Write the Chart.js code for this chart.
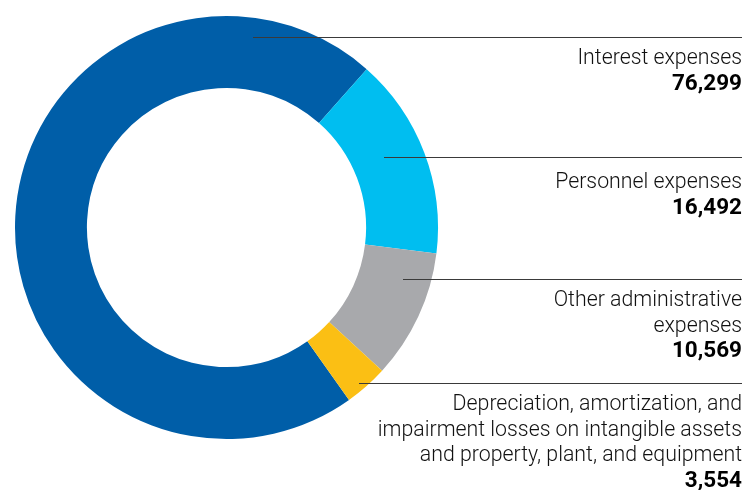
<!DOCTYPE html>
<html>
<head>
<meta charset="utf-8">
<script src="https://cdn.jsdelivr.net/npm/chart.js@4"></script>
<style>
  html, body { margin: 0; padding: 0; background: #fff; }
  #wrap { position: relative; width: 747px; height: 490px; }
</style>
</head>
<body>
<div id="wrap"><canvas id="myChart"></canvas></div>
<script>
// Expense breakdown
const labels = [
    ["Interest expenses"],
    ["Personnel expenses"],
    ["Other administrative", "expenses"],
    ["Depreciation, amortization, and", "impairment losses on intangible assets", "and property, plant, and equipment"]
];
const values = [76299, 16492, 10569, 3554];
const colors = ['#005EA8', '#00BEF0', '#A8A9AC', '#FBBF14'];

// leader line position (y) and where it starts inside the ring (x), first text baseline
const leaderY = [37, 157, 279, 383];
const leaderX = [253, 384, 403, 359];
const textBase = [64, 188, 306, 410];

const leaderLabels = {
    id: 'leaderLabels',
    afterDraw(chart) {
        const ctx = chart.ctx;
        const right = 742;
        ctx.save();
        for (let i = 0; i < values.length; i++) {
            ctx.strokeStyle = '#3a3a3a';
            ctx.lineWidth = 1;
            ctx.beginPath();
            ctx.moveTo(leaderX[i], leaderY[i] + 0.5);
            ctx.lineTo(right, leaderY[i] + 0.5);
            ctx.stroke();

            ctx.fillStyle = '#111';
            ctx.textAlign = 'right';
            ctx.textBaseline = 'alphabetic';
            let y = textBase[i];
            ctx.font = '300 21.3px Roboto';
            labels[i].forEach(line => {
                ctx.fillText(line, right, y);
                y += 25.5;
            });
            ctx.fillStyle = '#000';
            ctx.font = 'bold 22.5px Roboto';
            ctx.fillText(values[i].toLocaleString('en-US'), right, y);
        }
        ctx.restore();
    }
};

const data = {
    labels: labels.map(l => l.join(' ')),
    datasets: [{
        data: values,
        backgroundColor: colors,
        borderWidth: 0
    }]
};

const config = {
    type: 'doughnut',
    data,
    options: {
        responsive: true,
        maintainAspectRatio: false,
        animation: false,
        rotation: 144.6,
        cutout: '66%',
        layout: { padding: { left: 15, top: 16, right: 309, bottom: 51 } },
        plugins: {
            legend: { display: false },
            tooltip: { enabled: false }
        }
    },
    plugins: [leaderLabels]
};

var myChart = new Chart(document.getElementById('myChart'), config);
</script>
</body>
</html>
